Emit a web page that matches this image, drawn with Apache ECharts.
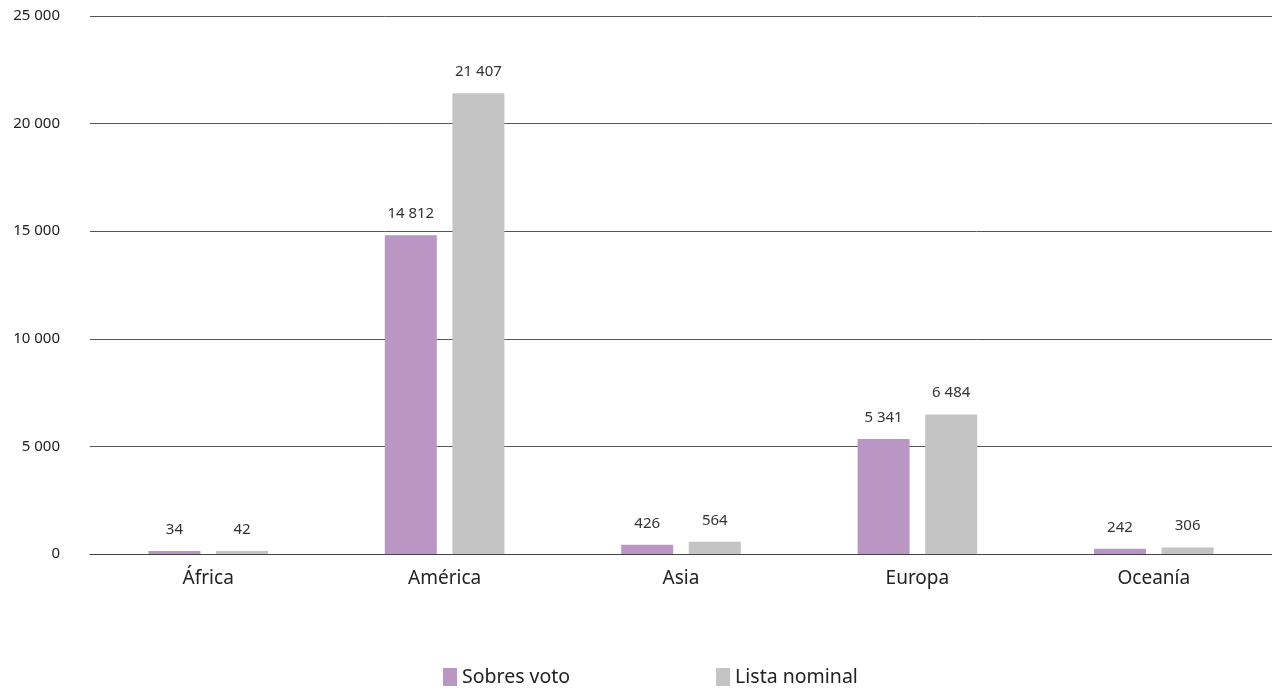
<!DOCTYPE html>
<html><head><meta charset="utf-8">
<script src="https://cdn.jsdelivr.net/npm/echarts@6/dist/echarts.min.js"></script>
<style>html,body{margin:0;padding:0;background:#fff}#c{width:1272px;height:690px}</style>
</head><body><div id="c"></div>
<script>
const categories = ['África', 'América', 'Asia', 'Europa', 'Oceanía'];
const sobresVoto = [34, 14812, 426, 5341, 242];
const listaNominal = [42, 21407, 564, 6484, 306];
const seriesNames = ['Sobres voto', 'Lista nominal'];

const fmt = v => String(v).replace(/\B(?=(\d{3})+(?!\d))/g, ' ');
const FONT = '"Noto Sans", "Open Sans", sans-serif';
const chart = echarts.init(document.getElementById('c'));
const labelCfg = {
  show: true, position: 'top', distance: 14, color: '#333', fontSize: 15, fontFamily: FONT,
  formatter: p => fmt(p.value)
};
chart.setOption({
  animation: false,
  textStyle: { fontFamily: FONT },
  grid: { left: 90, right: 0, top: 16, bottom: 136, containLabel: false },
  legend: {
    bottom: 3, left: 443, padding: 0, itemGap: 146, itemWidth: 14, itemHeight: 18,
    icon: 'rect', textStyle: { fontSize: 19.5, color: '#222', fontFamily: FONT },
    data: seriesNames
  },
  xAxis: {
    type: 'category', data: categories,
    axisLine: { lineStyle: { color: '#444', width: 1 } },
    axisTick: { show: false },
    axisLabel: { fontSize: 19, color: '#222', margin: 15, fontFamily: FONT }
  },
  yAxis: {
    type: 'value', min: 0, max: 25000, interval: 5000,
    axisLine: { show: false }, axisTick: { show: false },
    axisLabel: { fontSize: 15, color: '#222', margin: 30, formatter: v => fmt(v), fontFamily: FONT },
    splitLine: { lineStyle: { color: '#555', width: 1 } }
  },
  series: [
    { name: seriesNames[0], type: 'bar', data: sobresVoto, barWidth: '22%', barGap: '30%',
      barMinHeight: 3, itemStyle: { color: '#BA96C4' }, label: labelCfg },
    { name: seriesNames[1], type: 'bar', data: listaNominal, barWidth: '22%',
      barMinHeight: 3, itemStyle: { color: '#C4C4C4' }, label: labelCfg }
  ]
});
</script></body></html>
